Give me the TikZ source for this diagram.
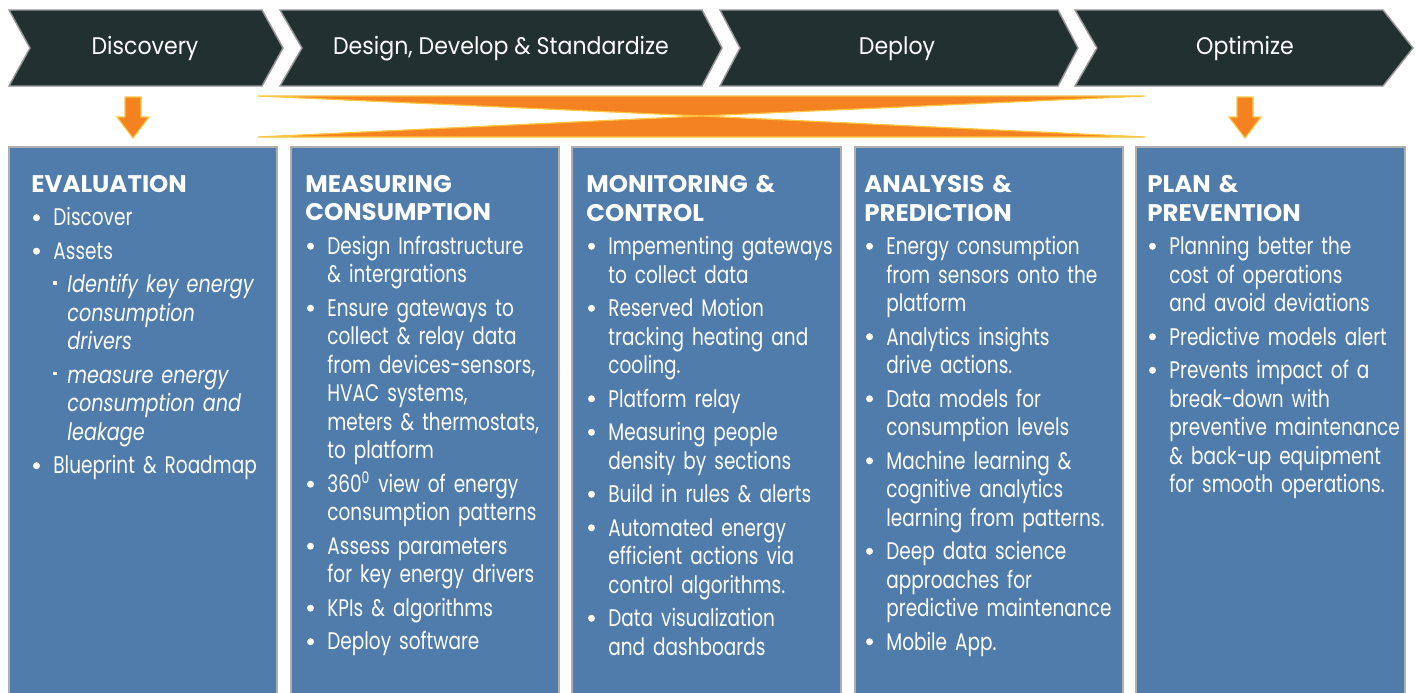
\documentclass[tikz,border=0pt]{standalone}
\usepackage{fontspec}
\setmainfont[FakeStretch=0.77]{Poppins}
\newfontfamily\phasefont[FakeStretch=0.92]{Poppins}
\newfontfamily\headfont[FakeStretch=1.02]{Poppins}
\newfontfamily\slantfont[FakeStretch=0.8]{Poppins}
\usetikzlibrary{positioning}

\definecolor{chevfill}{RGB}{34,48,48}
\definecolor{chevedge}{RGB}{150,150,150}
\definecolor{colfill}{RGB}{79,124,171}
\definecolor{coledge}{RGB}{175,175,175}
\definecolor{orng}{RGB}{245,130,32}
\definecolor{yelw}{RGB}{248,198,66}

\newcommand\bodyfont{\fontsize{12}{14.25}\selectfont\hyphenpenalty=10000\relax}
\newcommand\bulletdot{\raisebox{2.4pt}{\tikz\fill[white] (0,0) circle (1.75pt);}}
\newcommand\coltitle[1]{{\headfont\bfseries #1}\par}
\newcommand\bul[1]{\par\vspace{2.5pt}\hangindent=11pt\noindent\makebox[11pt][l]{\hspace{0.8pt}\bulletdot}#1\par}
\newcommand\subbul[1]{\par\vspace{2.5pt}\hangindent=18pt\noindent\hspace{11pt}\makebox[7pt][l]{\raisebox{4.2pt}{\rule{1.6pt}{1.6pt}}}{\slantfont\itshape #1}\par}

\tikzset{
  phase/.style={fill=chevfill, draw=chevedge, line width=0.7pt},
  phasetext/.style={text=white, anchor=base, inner sep=0pt, font=\phasefont\bodyfont},
  column/.style={fill=colfill, draw=coledge, line width=0.7pt},
  coltext/.style={text=white, anchor=north west, inner sep=0pt, text width=170pt, align=left,
    font=\bodyfont},
  flow/.style={fill=orng, draw=yelw, line width=0.6pt, line join=miter},
}

\begin{document}
\begin{tikzpicture}[x=0.5pt, y=-0.5pt]
  \clip (0,0) rectangle (1421,692);

  \draw[phase] (9,10) -- (262,10) -- (283,48) -- (262,86) -- (9,86) -- (30,48) -- cycle;
  \draw[phase] (280,10) -- (702,10) -- (722,48) -- (702,86) -- (280,86) -- (302,48) -- cycle;
  \draw[phase] (720,10) -- (1058,10) -- (1078,48) -- (1058,86) -- (720,86) -- (740,48) -- cycle;
  \draw[phase] (1075,10) -- (1383,10) -- (1413,48) -- (1383,86) -- (1075,86) -- (1097,48) -- cycle;

  \node[phasetext] (disc) at (145,54) {Discovery};
  \node[phasetext] (design) at (501,54) {Design, Develop \& Standardize};
  \node[phasetext] (deploy) at (897,54) {Deploy};
  \node[phasetext] (optim) at (1245,54) {Optimize};

  \draw[flow] (258,96) -- (1145,96) -- (701,116) -- cycle;
  \draw[flow] (258,137) -- (1145,137) -- (701,116) -- cycle;

  \draw[flow] (125,97) -- (141,97) -- (141,117) -- (149,117) -- (133,138)
    -- (117,117) -- (125,117) -- cycle;
  \draw[flow] (1237,97) -- (1253,97) -- (1253,117) -- (1261,117) -- (1245,138)
    -- (1229,117) -- (1237,117) -- cycle;

  \draw[column] (9,147) rectangle (277,700);
  \draw[column] (291,147) rectangle (559,700);
  \draw[column] (572,147) rectangle (841,700);
  \draw[column] (855,147) rectangle (1123,700);
  \draw[column] (1136,147) rectangle (1405,700);

  \node[coltext] (evaluation) at (31,175) {\coltitle{EVALUATION}
    \bul{Discover}
    \bul{Assets}
    \subbul{Identify key energy\newline consumption\newline drivers}
    \subbul{measure energy\newline consumption and\newline leakage}
    \bul{Blueprint \& Roadmap}};

  \node[coltext] (measuring) at (305,175) {\coltitle{MEASURING\newline CONSUMPTION}
    \bul{Design Infrastructure\newline \& intergrations}
    \bul{Ensure gateways to\newline collect \& relay data\newline from devices-sensors,\newline HVAC systems,\newline meters \& thermostats,\newline to platform}
    \bul{360\textsuperscript{0} view of energy\newline consumption patterns}
    \bul{Assess parameters\newline for key energy drivers}
    \bul{KPIs \& algorithms}
    \bul{Deploy software}};

  \node[coltext] (monitoring) at (586,175) {\coltitle{MONITORING \&\newline CONTROL}
    \bul{Impementing gateways\newline to collect data}
    \bul{Reserved Motion\newline tracking heating and\newline cooling.}
    \bul{Platform relay}
    \bul{Measuring people\newline density by sections}
    \bul{Build in rules \& alerts}
    \bul{Automated energy\newline efficient actions via\newline control algorithms.}
    \bul{Data visualization\newline and dashboards}};

  \node[coltext] (analysis) at (864,175) {\coltitle{ANALYSIS \&\newline PREDICTION}
    \bul{Energy consumption\newline from sensors onto the\newline platform}
    \bul{Analytics insights\newline drive actions.}
    \bul{Data models for\newline consumption levels}
    \bul{Machine learning \&\newline cognitive analytics\newline learning from patterns.}
    \bul{Deep data science\newline approaches for\newline predictive maintenance}
    \bul{Mobile App.}};

  \node[coltext] (plan) at (1147,175) {\coltitle{PLAN \&\newline PREVENTION}
    \bul{Planning better the\newline cost of operations\newline and avoid deviations}
    \bul{Predictive models alert}
    \bul{Prevents impact of a\newline break-down with\newline preventive maintenance\newline \& back-up equipment\newline for smooth operations.}};
\end{tikzpicture}
\end{document}
